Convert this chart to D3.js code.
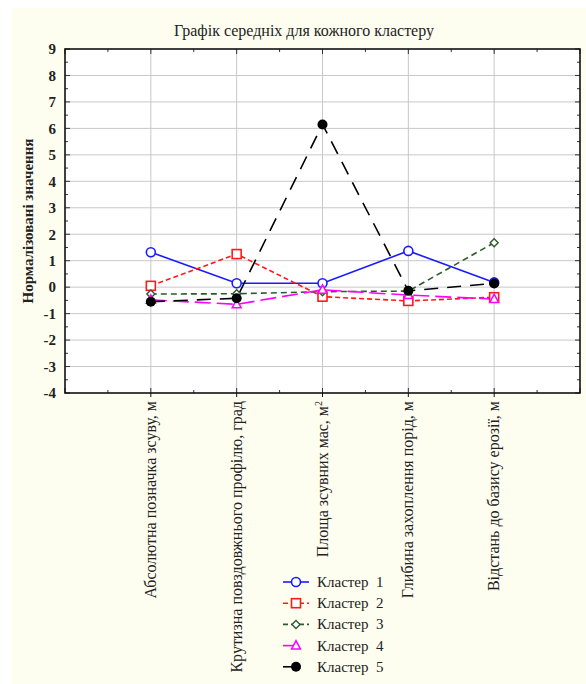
<!DOCTYPE html>
<html><head><meta charset="utf-8">
<script src="https://cdn.jsdelivr.net/npm/d3@7"></script>
<style>
html,body{margin:0;padding:0;background:#fff;}
svg{display:block;font-family:"Liberation Serif","Times New Roman",serif;}
</style></head>
<body>
<svg id="c" width="586" height="684"></svg>
<script>
const categories = [
  "Абсолютна позначка зсуву, м",
  "Крутизна повздовжнього профілю, град",
  "Площа зсувних мас, м",
  "Глибина захоплення порід, м",
  "Відстань до базису ерозії, м"
];
const seriesNames = ["Кластер  1","Кластер  2","Кластер  3","Кластер  4","Кластер  5"];
const cluster1 = [1.32, 0.15, 0.15, 1.37, 0.18];
const cluster2 = [0.05, 1.25, -0.36, -0.52, -0.38];
const cluster3 = [-0.26, -0.25, -0.17, -0.15, 1.68];
const cluster4 = [-0.48, -0.65, -0.1, -0.3, -0.45];
const cluster5 = [-0.55, -0.42, 6.15, -0.14, 0.14];
const yTicks = [-4,-3,-2,-1,0,1,2,3,4,5,6,7,8,9];
const title = "Графік середніх для кожного кластеру";
const yTitle = "Нормалізовані значення";

const series = [cluster1, cluster2, cluster3, cluster4, cluster5];
const styles = [
  {color:"#1a1aff", dash:null, marker:"circle"},
  {color:"#ff1a1a", dash:"5,3", marker:"square"},
  {color:"#2d5a2d", dash:"6,4", marker:"diamond"},
  {color:"#ff00ff", dash:"16,6", marker:"triangle"},
  {color:"#000000", dash:"14,9", marker:"dot"}
];

const svg = d3.select("#c");
svg.append("rect").attr("x",12).attr("y",8).attr("width",574).attr("height",676).attr("fill","#fefef0");

const L=65, R=580, T=49, B=393;
const x = d3.scaleLinear().domain([0, categories.length+1]).range([L,R]);
const y = d3.scaleLinear().domain([-4,9]).range([B,T]);

svg.append("rect").attr("x",L).attr("y",T).attr("width",R-L).attr("height",B-T).attr("fill","#fff");

// grid
const g = svg.append("g");
g.selectAll("line.h").data(yTicks.slice(1,-1)).join("line")
  .attr("x1",L).attr("x2",R).attr("y1",d=>y(d)).attr("y2",d=>y(d))
  .attr("stroke","#c8c8c8").attr("stroke-width",1);
g.selectAll("line.v").data(categories).join("line")
  .attr("x1",(d,i)=>x(i+1)).attr("x2",(d,i)=>x(i+1)).attr("y1",T).attr("y2",B)
  .attr("stroke","#c8c8c8").attr("stroke-width",1);

// axes
const yAxis = d3.axisLeft(y).tickValues(yTicks).tickSize(0).tickPadding(9).tickFormat(d=>String(d));
const ya = svg.append("g").attr("transform",`translate(${L},0)`).call(yAxis);
ya.select(".domain").remove();
ya.selectAll("text").attr("font-size",15).attr("font-weight","bold").attr("fill","#222")
  .attr("font-family","Liberation Serif, serif");

// minor ticks inside
const minor = d3.range(-4,9.001,0.5);
svg.append("g").selectAll("line").data(minor).join("line")
  .attr("x1",L).attr("x2",d=>L+(Number.isInteger(d)?5:3)).attr("y1",d=>y(d)).attr("y2",d=>y(d))
  .attr("stroke","#333");
svg.append("g").selectAll("line").data(minor).join("line")
  .attr("x1",R).attr("x2",d=>R-(Number.isInteger(d)?5:3)).attr("y1",d=>y(d)).attr("y2",d=>y(d))
  .attr("stroke","#333");
const xm = d3.range(0, categories.length+1.001, 0.5);
svg.append("g").selectAll("line").data(xm).join("line")
  .attr("x1",d=>x(d)).attr("x2",d=>x(d)).attr("y1",T).attr("y2",d=>T+(Number.isInteger(d)?5:3)).attr("stroke","#333");
svg.append("g").selectAll("line").data(xm).join("line")
  .attr("x1",d=>x(d)).attr("x2",d=>x(d)).attr("y1",B).attr("y2",d=>B-(Number.isInteger(d)?5:3)).attr("stroke","#333");

svg.append("rect").attr("x",L).attr("y",T).attr("width",R-L).attr("height",B-T)
  .attr("fill","none").attr("stroke","#111").attr("stroke-width",1.6);

// x ticks outward
svg.append("g").selectAll("line").data(categories).join("line")
  .attr("x1",(d,i)=>x(i+1)).attr("x2",(d,i)=>x(i+1)).attr("y1",B).attr("y2",B+4).attr("stroke","#111");

// x labels
const xl = svg.append("g").selectAll("text").data(categories).join("text")
  .attr("transform",(d,i)=>`translate(${x(i+1)+5},${B+8}) rotate(-90)`)
  .attr("text-anchor","end").attr("font-size",16).attr("fill","#222");
xl.each(function(d,i){
  const t=d3.select(this);
  if(i===2){
    t.append("tspan").text(d);
    t.append("tspan").attr("dy",-6).attr("font-size",10).text("2");
  } else t.text(d);
});

// title
svg.append("text").attr("x",304).attr("y",36).attr("text-anchor","middle")
  .attr("font-size",16).attr("fill","#222").text(title);
svg.append("text").attr("transform",`translate(33,${(T+B)/2}) rotate(-90)`)
  .attr("text-anchor","middle").attr("font-size",15).attr("font-weight","bold").attr("fill","#222").text(yTitle);

// markers
function drawMarker(sel, type, color, cx, cy){
  if(type==="circle") sel.append("circle").attr("cx",cx).attr("cy",cy).attr("r",4.5).attr("fill","#fff").attr("stroke",color).attr("stroke-width",1.6);
  else if(type==="square") sel.append("rect").attr("x",cx-4.5).attr("y",cy-4.5).attr("width",9).attr("height",9).attr("fill","#fff").attr("stroke",color).attr("stroke-width",1.6);
  else if(type==="diamond") sel.append("path").attr("d",`M${cx},${cy-4}L${cx+4},${cy}L${cx},${cy+4}L${cx-4},${cy}Z`).attr("fill","#fff").attr("stroke",color).attr("stroke-width",1.4);
  else if(type==="triangle") sel.append("path").attr("d",`M${cx},${cy-5}L${cx+4.5},${cy+3.5}L${cx-4.5},${cy+3.5}Z`).attr("fill","#fff").attr("stroke",color).attr("stroke-width",1.5);
  else sel.append("circle").attr("cx",cx).attr("cy",cy).attr("r",5).attr("fill",color);
}

const line = d3.line().x((d,i)=>x(i+1)).y(d=>y(d));
const order=[0,1,2,3,4];
order.forEach(k=>{
  const s=styles[k];
  svg.append("path").datum(series[k]).attr("d",line).attr("fill","none")
    .attr("stroke",s.color).attr("stroke-width",1.6).attr("stroke-dasharray",s.dash);
});
order.forEach(k=>{
  const s=styles[k]; const mg=svg.append("g");
  series[k].forEach((v,i)=>drawMarker(mg,s.marker,s.color,x(i+1),y(v)));
});

// legend
const lg = svg.append("g");
seriesNames.forEach((n,k)=>{
  const s=styles[k]; const yy=582+k*21.2;
  const ldash = k===0?null:"5,3";
  if(k<3){
    lg.append("line").attr("x1",283).attr("x2",309).attr("y1",yy).attr("y2",yy)
      .attr("stroke",s.color).attr("stroke-width",1.6).attr("stroke-dasharray",ldash);
  } else {
    lg.append("line").attr("x1",283).attr("x2",296).attr("y1",yy).attr("y2",yy)
      .attr("stroke",s.color).attr("stroke-width",1.6);
  }
  drawMarker(lg,s.marker,s.color,296,yy);
  lg.append("text").attr("x",317).attr("y",yy+5).attr("font-size",15).attr("fill","#222")
    .attr("xml:space","preserve").style("white-space","pre").text(n);
});
</script>
</body></html>
